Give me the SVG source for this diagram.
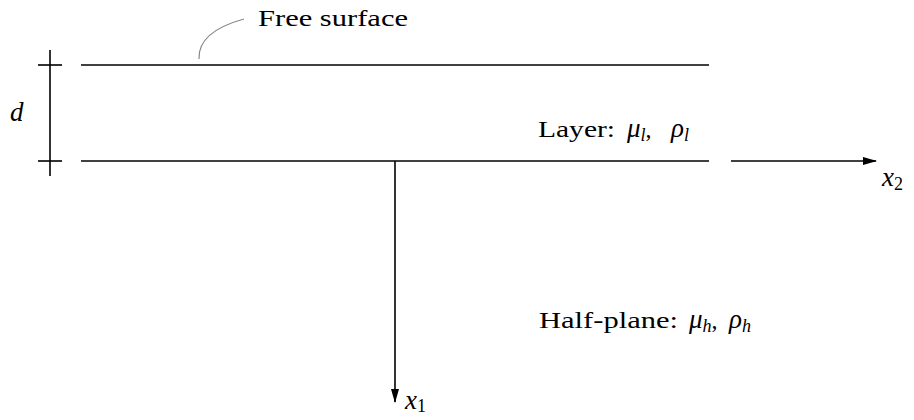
<svg xmlns="http://www.w3.org/2000/svg" width="914" height="420" viewBox="0 0 914 420">
<style>
.ln{stroke:#000;stroke-width:1.6;fill:none}
.t{font-family:"Liberation Serif","Times New Roman",serif;font-size:24px;fill:#000}
.m{font-style:italic;font-size:27px}
.s{font-size:18px}
</style>
<defs>
<marker id="ah" markerWidth="14" markerHeight="10" refX="13" refY="5" orient="auto" markerUnits="userSpaceOnUse">
<path d="M0,1 L14,5 L0,9 z" fill="#000"/>
</marker>
</defs>
<g id="layer">
<line class="ln" x1="81" y1="65" x2="709" y2="65"/>
<line class="ln" x1="81" y1="161" x2="709" y2="161"/>
</g>
<g id="dimension">
<line class="ln" x1="50" y1="50" x2="50" y2="176"/>
<line class="ln" x1="38" y1="65" x2="62" y2="65"/>
<line class="ln" x1="38" y1="161" x2="62" y2="161"/>
<text class="t m" x="10" y="121">d</text>
</g>
<g id="free-surface-label">
<path d="M199,59 C198,40 215,27 244,19" stroke="#888" stroke-width="1.2" fill="none"/>
<text class="t" x="258" y="26" textLength="150" lengthAdjust="spacingAndGlyphs">Free surface</text>
</g>
<g id="connectors">
<line class="ln" x1="731" y1="161" x2="876" y2="161" marker-end="url(#ah)"/>
<line class="ln" x1="395" y1="161" x2="395" y2="402" marker-end="url(#ah)"/>
</g>
<g id="axis-labels">
<text class="t m" x="882" y="186">x<tspan class="s" dy="4" font-style="normal">2</tspan></text>
<text class="t m" x="405" y="409">x<tspan class="s" dy="3" font-style="normal">1</tspan></text>
</g>
<g id="layer-label">
<text class="t" x="538" y="137"><tspan textLength="77" lengthAdjust="spacingAndGlyphs">Layer:</tspan><tspan class="m" x="627">μ</tspan><tspan class="s m" dy="4">l</tspan><tspan dy="-4">,</tspan><tspan class="m" x="671">ρ</tspan><tspan class="s m" dy="4">l</tspan></text>
</g>
<g id="halfplane-label">
<text class="t" x="539" y="328"><tspan textLength="139" lengthAdjust="spacingAndGlyphs">Half-plane:</tspan><tspan class="m" x="689">μ</tspan><tspan class="s m" dy="4">h</tspan><tspan dy="-4">,</tspan><tspan class="m" x="729">ρ</tspan><tspan class="s m" dy="4">h</tspan></text>
</g>
</svg>
